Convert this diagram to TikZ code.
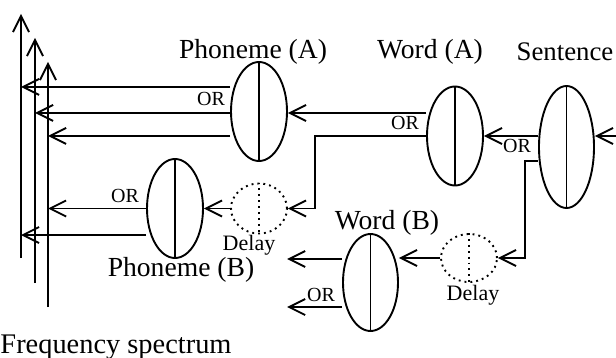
\documentclass[tikz,border=0pt]{standalone}
\usepackage{fontspec}
\setmainfont{Liberation Serif}
\usetikzlibrary{arrows.meta,shapes.geometric,calc}
\begin{document}
\begin{tikzpicture}[x=0.5pt,y=-0.5pt,line width=0.95pt,
  unit/.style={ellipse,draw,inner sep=0pt,minimum width=28pt,minimum height=49.5pt},
  delaybox/.style={ellipse,draw,dotted,inner sep=0pt,minimum width=28pt,minimum height=25pt},
  arr/.style={-{Straight Barb[length=8pt,width=8pt]}},
  big/.style={font=\fontsize{13.8}{16}\selectfont},
  orlbl/.style={font=\fontsize{10}{12}\selectfont,inner sep=0pt},
  dlbl/.style={font=\fontsize{11}{13}\selectfont,inner sep=0pt}]
\useasboundingbox (0,0) rectangle (616,358);

% processing units
\node[unit] (phA) at (259,111.5) {};
\node[unit] (wA)  at (455,136) {};
\node[unit,minimum width=27.5pt,minimum height=61pt] (sen) at (566.5,147) {};
\node[unit] (phB) at (175,208.5) {};
\node[unit,minimum width=27.5pt,minimum height=48.5pt] (wB) at (370.5,282.5) {};
\node[delaybox] (dA) at (259,208.5) {};
\node[delaybox,minimum height=24pt] (dB) at (469,258) {};

\foreach \n in {phA,wA,sen,phB,wB} \draw (\n.north) -- (\n.south);
\foreach \n in {dA,dB} \draw[dotted] (\n.north) -- (\n.south);

% frequency spectrum axes
\coordinate (ax1b) at (21,258);  \coordinate (ax1t) at (21,14);
\coordinate (ax2b) at (35,283);  \coordinate (ax2t) at (35,38);
\coordinate (ax3b) at (48,307);  \coordinate (ax3t) at (48,62);
\draw[arr] (ax1b) -- (ax1t);
\draw[arr] (ax2b) -- (ax2t);
\draw[arr] (ax3b) -- (ax3t);

% free ends and bends
\coordinate (senIn) at (620,136);
\coordinate (bendA) at (315,136);
\coordinate (bendB) at (525,161);
\coordinate (outB1) at (287,259);
\coordinate (outB2) at (287,307);

% Phoneme (A) outputs
\draw[arr] ($(phA.west)+(0,-24.5)$) coordinate (p1) -- (p1 -| ax1b);
\draw[arr] ($(phA.west)+(0,1.5)$) coordinate (p2) -- (p2 -| ax2b);
\draw[arr] ($(phA.west)+(0,24.5)$) coordinate (p3) -- (p3 -| ax3b);

% Word (A) outputs
\draw[arr] ($(wA.west)+(0,-23)$) coordinate (q1) -- (q1 -| phA.east);
\draw[arr] (wA.west) -- (bendA) |- (dA.east);
\draw[arr] (dA.west) -- (phB.east);

% Phoneme (B) outputs
\draw[arr] (phB.west) -- (phB.west -| ax3b);
\draw[arr] ($(phB.west)+(0,26.5)$) coordinate (r1) -- (r1 -| ax1b);

% Sentence input and outputs
\draw[arr] (senIn) -- (senIn -| sen.east);
\draw[arr] ($(sen.west)+(0,-11)$) coordinate (s1) -- (s1 -| wA.east);
\draw[arr] ($(sen.west)+(0,14)$) -- (bendB) |- (dB.east);
\draw[arr] (dB.west) -- (dB.west -| wB.east);

% Word (B) outputs
\draw[arr] ($(wB.west)+(0,-23.5)$) -- (outB1);
\draw[arr] ($(wB.west)+(0,24.5)$) -- (outB2);

% labels
\node[big] (lphA) at (253,52) {Phoneme (A)};
\node[big] (lwA) at (430,52) {Word (A)};
\node[font=\fontsize{13.4}{16}\selectfont] (lsen) at (565,52) {Sentence};
\node[big] (lwB) at (387,223) {Word (B)};
\node[big] (lphB) at (181,270) {Phoneme (B)};
\node[font=\fontsize{14.2}{17}\selectfont] (lfs) at (116,347) {Frequency spectrum};
\node[orlbl] (or1) at (211,99) {OR};
\node[orlbl] (or2) at (405,123) {OR};
\node[orlbl] (or3) at (517,146) {OR};
\node[orlbl] (or4) at (125,196) {OR};
\node[orlbl] (or5) at (321,295) {OR};
\node[dlbl] (ldA) at (249,245) {Delay};
\node[dlbl] (ldB) at (473,295) {Delay};
\end{tikzpicture}
\end{document}
